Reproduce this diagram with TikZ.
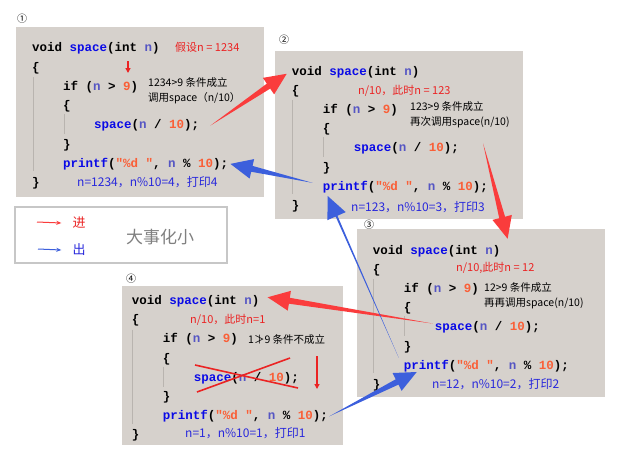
\documentclass[tikz,border=0pt]{standalone}
\usepackage{fontspec}
\setmonofont{Liberation Mono}
\newfontfamily\cjk{Noto Sans CJK SC}
\usepackage{xcolor}
\usepackage{tikz}
\usetikzlibrary{arrows.meta,calc}

\definecolor{panelbg}{RGB}{214,209,204}
\definecolor{codefn}{RGB}{10,10,230}
\definecolor{codevar}{RGB}{85,85,195}
\definecolor{codenum}{RGB}{250,95,55}
\definecolor{guidegray}{RGB}{185,180,175}
\definecolor{notered}{RGB}{235,35,35}
\definecolor{noteblue}{RGB}{40,40,220}
\definecolor{inred}{RGB}{250,60,60}
\definecolor{outblue}{RGB}{60,95,220}

% code line pieces
\newcommand{\fn}[1]{\textcolor{codefn}{#1}}
\newcommand{\vn}{\textcolor{codevar}{n}}
\newcommand{\nm}[1]{\textcolor{codenum}{#1}}
\newcommand{\sigline}{void \fn{space}(int \vn)}
\newcommand{\ifline}{if (\vn{} > \nm{9})}
\newcommand{\callline}{\fn{space}(\vn{} / \nm{10});}
\newcommand{\printline}{\fn{printf}(\nm{"\%d "}, \vn{} \% \nm{10});}

% one copy of the function, first baseline at (#2,#3)
\newcommand{\codeblock}[3]{%
  \begin{scope}[shift={(#2,#3)}]
    \node[code] (#1sig)   at (0,0)      {\sigline};
    \node[code] (#1open)  at (0,19.2)   {\{};
    \node[code] (#1if)    at (31,38.4)  {\ifline};
    \node[code] (#1lb)    at (31,57.6)  {\{};
    \node[code] (#1call)  at (62,76.8)  {\callline};
    \node[code] (#1rb)    at (31,96)    {\}};
    \node[code] (#1print) at (31,115.2) {\printline};
    \node[code] (#1close) at (0,134.4)  {\}};
    \draw[guide] (1,25) -- (1,119);
    \draw[guide] (32,62) -- (32,82);
  \end{scope}}

% tapered arrow: [shaft half width]{colour}{tail}{tip}
\newcommand{\fatarrow}[4][3pt]{%
  \coordinate (fa-t) at (#3);
  \coordinate (fa-h) at (#4);
  \coordinate (fa-b) at ($(fa-h)!22pt!(fa-t)$);
  \fill[#2] (fa-t) -- ($(fa-b)!#1!90:(fa-h)$) -- ($(fa-b)!10pt!90:(fa-h)$) -- (fa-h)
    -- ($(fa-b)!10pt!-90:(fa-h)$) -- ($(fa-b)!#1!-90:(fa-h)$) -- cycle;}

\begin{document}
\begin{tikzpicture}[x=1pt, y=-1pt,
  code/.style={anchor=base west, inner sep=0pt,
    font=\ttfamily\bfseries\fontsize{12.5}{14}\selectfont},
  guide/.style={draw=guidegray, line width=0.8pt},
  panel/.style={fill=panelbg},
  note/.style={anchor=west, inner sep=0pt, font=\cjk\fontsize{10.5}{12}\selectfont},
  rednote/.style={note, text=notered, font=\cjk\fontsize{11}{12}\selectfont},
  bluenote/.style={note, text=noteblue, font=\cjk\fontsize{12}{13}\selectfont},
  stepno/.style={inner sep=0pt, font=\cjk\fontsize{10}{11}\selectfont},
  thinred/.style={draw=notered, line width=1.6pt, -{Triangle[length=5pt,width=5pt]}},
  legarrow/.style={line width=1pt, -{Stealth[length=5pt,width=4pt]}}
]
  \useasboundingbox (0,0) rectangle (639,460);

  % panels
  \fill[panel] (16,27) rectangle (264,197);
  \fill[panel] (275,51) rectangle (523,219);
  \fill[panel] (357,229) rectangle (605,397);
  \fill[panel] (122,286) rectangle (343,445);

  \node[stepno] (s1) at (22,19)  {①};
  \node[stepno] (s2) at (284,40) {②};
  \node[stepno] (s3) at (369,225) {③};
  \node[stepno] (s4) at (131,279) {④};

  \codeblock{b1}{32}{52}
  \codeblock{b2}{291.7}{75}
  \codeblock{b3}{372.7}{254}
  \codeblock{b4}{131.7}{304.5}

  % notes, panel 1
  \node[rednote] (n1a) at (175,47) {假设n = 1234};
  \coordinate (n1arr) at (128,61);
  \draw[thinred, line width=1.2pt] (n1arr) -- ++(0,12);
  \node[note] (n1b) at (148,83) {1234>9 条件成立};
  \node[note] (n1c) at (148,98) {调用space（n/10）};
  \node[bluenote] (n1d) at (77,182) {n=1234，n\%10=4，打印4};

  % notes, panel 2
  \node[rednote] (n2a) at (358,91) {n/10，此时n = 123};
  \node[note] (n2b) at (410,107) {123>9 条件成立};
  \node[note] (n2c) at (410,122) {再次调用space(n/10)};
  \node[bluenote] (n2d) at (351,207) {n=123，n\%10=3，打印3};

  % notes, panel 3
  \node[rednote] (n3a) at (456,268) {n/10,此时n = 12};
  \node[note] (n3b) at (484,288) {12>9 条件成立};
  \node[note] (n3c) at (484,303) {再再调用space(n/10)};
  \node[bluenote] (n3d) at (432,384) {n=12，n\%10=2，打印2};

  % notes, panel 4
  \node[rednote] (n4a) at (190,320) {n/10，此时n=1};
  \node[note] (n4b) at (248,340) {1≯9 条件不成立};
  \node[bluenote] (n4d) at (185,433) {n=1，n\%10=1，打印1};
  \draw[notered, line width=1.6pt] (195,365) -- (298,388);
  \draw[notered, line width=1.6pt] (197,392) -- (290,358);
  \coordinate (n4arr) at (317,356);
  \draw[thinred] (n4arr) -- ++(0,33);

  % calls going in
  \fatarrow{inred}{[xshift=11pt]b1call.east}{[xshift=-5pt,yshift=-2pt]b2sig.west}
  \fatarrow{inred}{[xshift=24pt,yshift=5pt]b2call.east}{[xshift=7pt,yshift=6pt]b3sig.north east}
  \fatarrow{inred}{[xshift=-2pt,yshift=4pt]b3call.west}{[xshift=8pt,yshift=4pt]b4sig.east}

  % returns coming out
  \fatarrow{outblue}{[xshift=1pt]b4print.east}{[xshift=13pt]b3print.south west}
  \fatarrow[1pt]{outblue}{[xshift=-5pt,yshift=2pt]b3print.north west}{[xshift=5pt,yshift=-3pt]b2print.south west}
  \fatarrow{outblue}{[xshift=-10pt,yshift=4pt]b2print.west}{[xshift=2pt]b1print.east}

  % legend
  \draw[draw=black!22, line width=2.5pt, fill=white] (15,207) rectangle (227,263);
  \node[inner sep=0pt, text=notered, font=\cjk\fontsize{13}{14}\selectfont] (lin) at (79,223) {进};
  \node[inner sep=0pt, text=noteblue, font=\cjk\fontsize{13}{14}\selectfont] (lout) at (79,250) {出};
  \node[inner sep=0pt, text=black!50, font=\cjk\fontsize{17}{18}\selectfont] (ltitle) at (160,237) {大事化小};
  \coordinate (linarr) at (37,222);
  \coordinate (loutarr) at (38,249);
  \draw[legarrow, inred] (linarr) -- ([xshift=-11pt]lin.west);
  \draw[legarrow, outblue] (loutarr) -- ([xshift=-11pt]lout.west);
\end{tikzpicture}
\end{document}
